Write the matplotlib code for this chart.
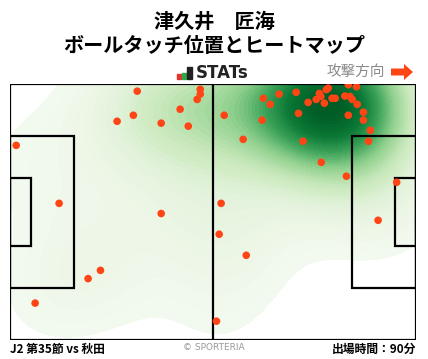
import numpy as np
import matplotlib
matplotlib.use('Agg')
import matplotlib.pyplot as plt
from matplotlib import patches
from matplotlib.colors import LinearSegmentedColormap

plt.rcParams['font.family'] = ['Noto Sans CJK JP', 'DejaVu Sans']

# ボールタッチ位置 (ピッチ座標 105 x 68, 右方向へ攻撃)
touch_x = [32.9, 49.2, 49.2, 48.4, 44.0, 31.9, 27.7, 39.1, 46.1, 1.6, 12.7, 39.1,
           87.5, 89.6, 82.3, 81.8, 80.0, 80.4, 74.0, 69.6, 65.5, 67.3, 77.1, 79.2,
           81.3, 83.3, 84.1, 86.6, 87.9, 88.5, 89.8, 91.4, 87.5, 91.4, 74.6, 55.4,
           65.2, 93.2, 60.3, 75.8, 92.7, 80.5, 87.0, 100.0, 54.6, 95.2, 23.4, 20.2,
           6.5, 54.1, 61.1, 53.4]
touch_y = [66.1, 66.6, 65.3, 63.9, 61.3, 59.7, 58.1, 57.6, 56.8, 51.7, 36.3, 33.6,
           67.8, 67.3, 66.9, 66.5, 65.5, 64.7, 65.8, 65.3, 64.2, 62.6, 63.1, 63.9,
           62.9, 64.2, 64.2, 64.8, 64.7, 63.9, 62.6, 60.5, 59.7, 58.4, 60.2, 59.7,
           58.4, 55.7, 53.3, 52.8, 52.8, 47.2, 43.5, 41.9, 36.3, 31.8, 18.5, 16.3,
           9.8, 28.1, 22.5, 5.0]

title1 = '津久井　匠海'
title2 = 'ボールタッチ位置とヒートマップ'
match_label = 'J2 第35節 vs 秋田'
minutes_label = '出場時間：90分'

L, W = 105.0, 68.0

fig = plt.figure(figsize=(4.28, 3.59), dpi=100)
ax = fig.add_axes([10 / 428, 19 / 359, 406 / 428, 256 / 359])

# ヒートマップ (ガウスカーネル密度)
px = np.array(touch_x)
py = np.array(touch_y)
gx, gy = np.meshgrid(np.linspace(0, L, 211), np.linspace(0, W, 137))
bw = 12.5
dens = np.zeros_like(gx)
for x0, y0 in zip(px, py):
    dens += np.exp(-((gx - x0) ** 2 + (gy - y0) ** 2) / (2 * bw ** 2))
dens /= dens.max()

cmap = LinearSegmentedColormap.from_list(
    'heat', ['#f3f9ef', '#e4f3dc', '#c6e7b9', '#8fd08c', '#3fa45a', '#0b7a36', '#005a25'])
levels = np.linspace(0.06, 1.0, 50)
ax.contourf(gx, gy, dens, levels=levels, cmap=cmap, extend='max', zorder=1)

# ピッチライン
lw = 1.6
ax.add_patch(patches.Rectangle((0, 0), L, W, fill=False, ec='black', lw=lw, zorder=3))
ax.plot([L / 2, L / 2], [0, W], color='black', lw=lw, zorder=3)
for side in (0, 1):
    pb_x = 0 if side == 0 else L - 16.5
    gb_x = 0 if side == 0 else L - 5.5
    ax.add_patch(patches.Rectangle((pb_x, W / 2 - 20.16), 16.5, 40.32,
                                   fill=False, ec='black', lw=lw, zorder=3))
    ax.add_patch(patches.Rectangle((gb_x, W / 2 - 9.16), 5.5, 18.32,
                                   fill=False, ec='black', lw=lw, zorder=3))

ax.scatter(px, py, s=30, color='#ff4515', edgecolors='none', zorder=4)

ax.set_xlim(0, L)
ax.set_ylim(0, W)
ax.axis('off')

# タイトル
fig.text(0.5, 1 - 21 / 359, title1, ha='center', va='center',
         fontsize=14.5, fontweight='bold')
fig.text(0.5, 1 - 45 / 359, title2, ha='center', va='center',
         fontsize=14.5, fontweight='bold')

# STATs ロゴ
for x0, w, h, c in [(177, 4, 5, '#e8302a'), (182, 4, 6, '#2aa84a'), (187, 4.5, 12, '#222222')]:
    fig.add_artist(patches.Rectangle((x0 / 428, 1 - 79 / 359), w / 428, h / 359,
                                     transform=fig.transFigure, color=c))
fig.text(196 / 428, 1 - 73 / 359, 'STATs', ha='left', va='center',
         fontsize=12, fontweight='bold', color='#222222', family='DejaVu Sans')

# 攻撃方向
fig.text(385 / 428, 1 - 72 / 359, '攻撃方向', ha='right', va='center',
         fontsize=10.5, color='#8a8a8a')
fig.add_artist(patches.FancyArrow(391 / 428, 1 - 72 / 359, 13 / 428, 0,
                                  width=7 / 359, head_width=16 / 359,
                                  head_length=9 / 428, length_includes_head=False,
                                  transform=fig.transFigure, color='#ff4515', lw=0))

# フッター
fig.text(10 / 428, 1 - 349 / 359, match_label, ha='left', va='center',
         fontsize=8.5, fontweight='bold')
fig.text(0.5, 1 - 348 / 359, '© SPORTERIA', ha='center', va='center',
         fontsize=6.5, color='#999999', family='DejaVu Sans')
fig.text(416 / 428, 1 - 349 / 359, minutes_label, ha='right', va='center',
         fontsize=8.5, fontweight='bold')

fig.savefig('out.png', dpi=100)
